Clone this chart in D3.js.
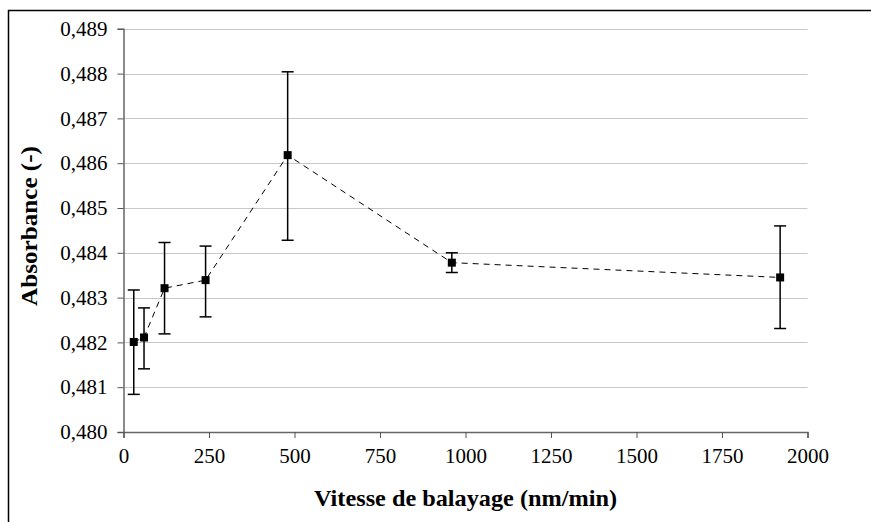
<!DOCTYPE html>
<html>
<head>
<meta charset="utf-8">
<script src="https://cdn.jsdelivr.net/npm/d3@7"></script>
</head>
<body style="margin:0;background:#fff">
<svg id="chart" width="871" height="522" style="display:block"></svg>
<script>
// Data
const speeds = [30, 60, 120, 240, 480, 960, 1920];
const absorbance = [0.48201, 0.48211, 0.48321, 0.48339, 0.48618, 0.48378, 0.48345];
const errUpper = [0.48317, 0.48277, 0.48423, 0.48415, 0.48804, 0.48400, 0.48460];
const errLower = [0.48084, 0.48141, 0.48219, 0.48257, 0.48428, 0.48356, 0.48231];
const xTicks = [0, 250, 500, 750, 1000, 1250, 1500, 1750, 2000];
const yTicks = [0.480, 0.481, 0.482, 0.483, 0.484, 0.485, 0.486, 0.487, 0.488, 0.489];
const xTitle = "Vitesse de balayage (nm/min)";
const yTitle = "Absorbance (-)";

const svg = d3.select("#chart");
const x = d3.scaleLinear().domain([0, 2000]).range([123.5, 807.5]);
const y = d3.scaleLinear().domain([0.480, 0.489]).range([432, 28.8]);

// outer frame
svg.append("rect").attr("x", 8.5).attr("y", 10.5).attr("width", 900).attr("height", 600)
  .attr("fill", "none").attr("stroke", "#000").attr("stroke-width", 1.5);

// gridlines
svg.append("g").selectAll("line").data(yTicks.slice(1)).join("line")
  .attr("x1", x(0)).attr("x2", x(2000))
  .attr("y1", d => Math.round(y(d)) + 0.5).attr("y2", d => Math.round(y(d)) + 0.5)
  .attr("stroke", "#c8c8c8").attr("stroke-width", 1);

const fmt = d => d3.format(".3f")(d).replace(".", ",");

// y axis
const yAxis = svg.append("g").attr("transform", `translate(${x(0)},0)`)
  .call(d3.axisLeft(y).tickValues(yTicks).tickFormat(fmt).tickSize(6).tickPadding(10));
yAxis.attr("font-family", "Liberation Serif").attr("font-size", 21);
yAxis.selectAll("text").attr("fill", "#000");
yAxis.selectAll("line").attr("stroke", "#555");
yAxis.select(".domain").attr("stroke", "#666").attr("stroke-width", 1.5);

// x axis
const xAxis = svg.append("g").attr("transform", `translate(0,${y(0.480)})`)
  .call(d3.axisBottom(x).tickValues(xTicks).tickFormat(d3.format("d")).tickSize(6).tickPadding(10));
xAxis.attr("font-family", "Liberation Serif").attr("font-size", 21);
xAxis.selectAll("text").attr("fill", "#000");
xAxis.selectAll("line").attr("stroke", "#555");
xAxis.select(".domain").attr("stroke", "#666").attr("stroke-width", 1.5);

// dashed connecting line
const pts = speeds.map((s, i) => [s, absorbance[i]]);
svg.append("path").datum(pts)
  .attr("d", d3.line().x(d => x(d[0])).y(d => y(d[1])))
  .attr("fill", "none").attr("stroke", "#000").attr("stroke-width", 1)
  .attr("stroke-dasharray", "6,5");

// error bars
const eb = svg.append("g").attr("stroke", "#000").attr("stroke-width", 1.5);
speeds.forEach((s, i) => {
  const cx = x(s);
  eb.append("line").attr("x1", cx).attr("x2", cx).attr("y1", y(errUpper[i])).attr("y2", y(errLower[i]));
  eb.append("line").attr("x1", cx - 6).attr("x2", cx + 6).attr("y1", y(errUpper[i])).attr("y2", y(errUpper[i]));
  eb.append("line").attr("x1", cx - 6).attr("x2", cx + 6).attr("y1", y(errLower[i])).attr("y2", y(errLower[i]));
});

// markers
svg.append("g").selectAll("rect").data(pts).join("rect")
  .attr("x", d => x(d[0]) - 4).attr("y", d => y(d[1]) - 4)
  .attr("width", 8).attr("height", 8).attr("fill", "#000");

// titles
const titles = svg.append("g").attr("font-family", "Liberation Serif")
  .attr("font-size", 24).attr("font-weight", "bold").attr("text-anchor", "middle");
titles.append("text").attr("x", (x(0) + x(2000)) / 2).attr("y", 506)
  .attr("textLength", 303).attr("lengthAdjust", "spacingAndGlyphs")
  .text(xTitle);
titles.append("text").attr("transform", "translate(37,226) rotate(-90)")
  .attr("textLength", 160).attr("lengthAdjust", "spacingAndGlyphs")
  .text(yTitle);
</script>
</body>
</html>
